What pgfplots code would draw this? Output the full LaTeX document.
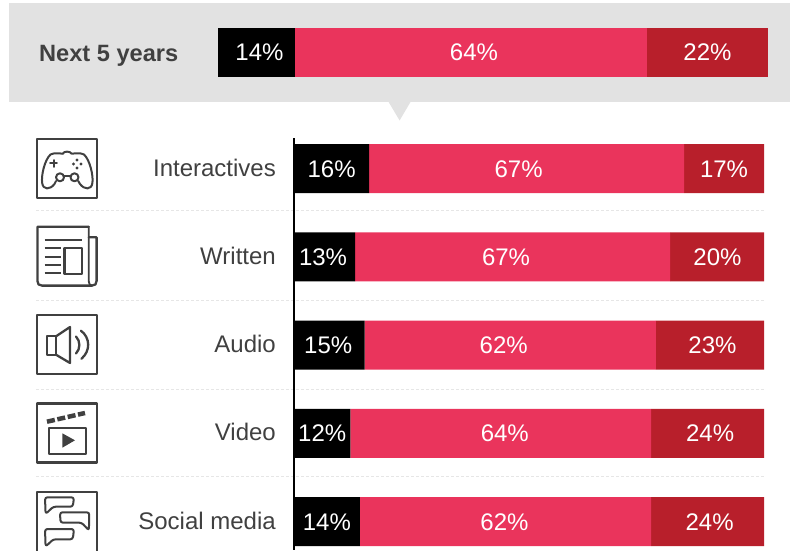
\documentclass[border=0pt]{standalone}
\usepackage{fontspec}
\setmainfont{Liberation Sans}
\usepackage{pgfplots}
\usepackage{pgfplotstable}
\pgfplotsset{compat=1.18}

\definecolor{panelgrey}{HTML}{E2E2E2}
\definecolor{ruleline}{HTML}{E6E6E6}
\definecolor{inkgrey}{HTML}{404040}
\definecolor{barblack}{HTML}{000000}
\definecolor{barred}{HTML}{EA345C}
\definecolor{bardark}{HTML}{B81F2B}

% Shares for the five content types, top to bottom, with label nudges in pt
\pgfplotstableread{
pos low mid high lowoff midoff highoff
0 16 67 17 0 -8 0
1 13 67 20 -1.5 -6.5 0.5
2 15 62 23 -1 -6.5 2.5
3 12 64 24 0 4 2.5
4 14 62 24 0 -1 2
}\contenttable

% Overall share for the next five years
\pgfplotstableread{
pos low mid high lowoff midoff highoff
0 14 64 22 3 3 0
}\overalltable

\pgfplotsset{
  sharebars/.style={
    xbar stacked,
    scale only axis,
    xmin=0, xmax=100,
    visualization depends on={rawx \as \rawval},
    nodes near coords={\pgfmathprintnumber[fixed,precision=0,assume math mode=true]{\rawval}\%},
    every node near coord/.append style={
      anchor=center, text=white, font=\fontsize{24}{24}\selectfont,
      inner sep=0pt, text height=17pt, text depth=0pt
    },
  },
  nudged/.style={
    visualization depends on={\thisrow{#1} \as \labeloff},
    every node near coord/.append style={xshift=\labeloff pt},
  },
}

\begin{document}
\begin{tikzpicture}[x=1pt,y=1pt]
\clip[use as bounding box] (0,0) rectangle (795,550);

% Header panel, pointer and row separators, in top-down page units
\begin{scope}[yscale=-1,yshift=-550pt]
  \fill[panelgrey] (9,3) rectangle (790,102);
  \fill[panelgrey] (388.3,101.5) -- (410.8,101.5) -- (399.6,120.5) -- cycle;
  \foreach \yy in {210.7,300.3,389,476.7}
    \draw[ruleline,line width=1pt,dash pattern=on 3pt off 2pt] (36,\yy) -- (764,\yy);

  \begin{scope}[draw=inkgrey,line width=2pt,line join=round,line cap=round]
    % Game controller
    \draw[line width=2.3pt,line cap=butt] (37.3,138.8) rectangle (96.7,198);
    \draw (63,153.6) .. controls (63.5,151) and (70.5,151) .. (71.5,153.6)
          .. controls (76,153.6) and (80,152.5) .. (84,154.5)
          .. controls (90,160) and (93.5,176) .. (92.4,183)
          .. controls (91.5,190) and (84.5,190) .. (80,184)
          -- (78.2,181);
    \draw (56,181) -- (54.5,184)
          .. controls (50,190) and (43,190) .. (42.2,183)
          .. controls (41,176) and (44.5,160) .. (50.5,154.5)
          .. controls (54.5,152.5) and (58.5,153.6) .. (63,153.6);
    \draw (60,177.3) circle (4) (74.5,177.3) circle (4);
    \draw (64,176) -- (70.5,176);
    \draw (53.5,160.2) -- (53.5,166.8) (50.2,163.5) -- (56.8,163.5);
    \fill[inkgrey] (77,160) circle (1.6) (73.5,164) circle (1.6)
                   (81,164) circle (1.6) (77,168) circle (1.6);

    % Newspaper
    \draw[line width=2.3pt] (88.7,226.8) -- (37.4,226.8) -- (37.4,281)
          .. controls (37.4,284) and (39,285.6) .. (42,285.6)
          -- (92,285.6) .. controls (95,285.6) and (96.6,284) .. (96.6,281)
          -- (96.6,237.3) -- (88.7,237.3);
    \draw[line width=1.8pt] (88.7,226.8) -- (88.7,281)
          .. controls (88.7,284) and (90,285.6) .. (92,285.6);
    \draw[line width=2.3pt,line cap=butt] (44.7,240) -- (81.7,240)
          (44.7,248.3) -- (60.7,248.3) (44.7,256.7) -- (60.7,256.7)
          (44.7,265) -- (60.7,265) (44.7,273.3) -- (60.7,273.3);
    \draw[line width=2.3pt] (64.5,248.3) rectangle (82.3,274.3);

    % Loudspeaker
    \draw[line width=2.3pt,line cap=butt] (37.3,315) rectangle (96.7,374);
    \draw[line width=2.3pt] (46.7,336.3) rectangle (56,354.7);
    \draw[line width=2.3pt] (56,336.3) -- (70,327) -- (70,363) -- (56,354.7);
    \draw[line width=2.3pt] (76,336.5) .. controls (80.5,341) and (80.5,349) .. (76,353.5);
    \draw[line width=2.3pt] (81,330.7) .. controls (90.5,338) and (90.5,351) .. (81.5,358.7);

    % Clapperboard
    \draw[line width=2.3pt,line cap=butt] (37.3,403.5) rectangle (96.7,462.5);
    \draw[line width=2.3pt,line cap=butt] (49.3,428.3) rectangle (85.7,454.3);
    \fill[inkgrey] (62.3,433.3) -- (75,440.3) -- (62.3,447.7) -- cycle;
    \draw[line width=4.5pt,line cap=butt,dash pattern=on 8pt off 2.6pt]
          (47,421.7) -- (85,413);

    % Speech bubbles
    \draw[line width=2.3pt,line cap=butt] (37.3,492) rectangle (96.7,553);
    \draw[line width=2pt,rounded corners=2.5pt] (53.3,506.7) -- (72.8,506.7) -- (74,497.3) -- (45,497.3) -- (45.6,514) -- cycle;
    \draw[line width=2pt,rounded corners=2.5pt] (81.7,522.7) -- (60.5,522.7) -- (60,512.3) -- (89.3,512.3) -- (88.9,530.4) -- cycle;
    \draw[line width=2pt,rounded corners=2.5pt] (53.3,539.3) -- (72.8,539.3) -- (74,529) -- (45,529) -- (45.6,546.6) -- cycle;
  \end{scope}
\end{scope}

% Overall bar inside the header panel
\begin{axis}[
  at={(218pt,473pt)}, anchor=south west,
  width=550pt, height=49pt,
  sharebars,
  hide axis,
  ymin=-0.5, ymax=0.5,
  bar width=49pt,
  clip=false,
]
\addplot[fill=barblack,draw=none,nudged=lowoff] table[x=low,y=pos] {\overalltable};
\addplot[fill=barred,draw=none,nudged=midoff] table[x=mid,y=pos] {\overalltable};
\addplot[fill=bardark,draw=none,nudged=highoff] table[x=high,y=pos] {\overalltable};
\end{axis}

\node[anchor=base west,inner sep=0pt,text=inkgrey,font=\fontsize{23.6}{24}\selectfont\bfseries]
  at (39,488.5) {Next 5 years};

% One stacked bar for each content type
\begin{axis}[
  at={(294pt,0pt)}, anchor=south west,
  width=470pt, height=412pt,
  sharebars,
  y dir=reverse,
  ymin=-0.3456, ymax=4.323,
  bar width=49pt,
  axis x line=none,
  axis y line=left,
  axis line style={-,black,line width=2pt},
  ytick={0,1,2,3,4},
  yticklabels={Interactives,Written,Audio,Video,Social media},
  major tick length=0pt,
  y tick label style={anchor=east,inner sep=0pt,xshift=-18pt,yshift=-2.5pt,
    text=inkgrey,font=\fontsize{24}{24}\selectfont},
  typeset ticklabels with strut,
  axis on top,
  clip=false,
]
\addplot[fill=barblack,draw=none,nudged=lowoff] table[x=low,y=pos] {\contenttable};
\addplot[fill=barred,draw=none,nudged=midoff] table[x=mid,y=pos] {\contenttable};
\addplot[fill=bardark,draw=none,nudged=highoff] table[x=high,y=pos] {\contenttable};
\end{axis}
\end{tikzpicture}
\end{document}
